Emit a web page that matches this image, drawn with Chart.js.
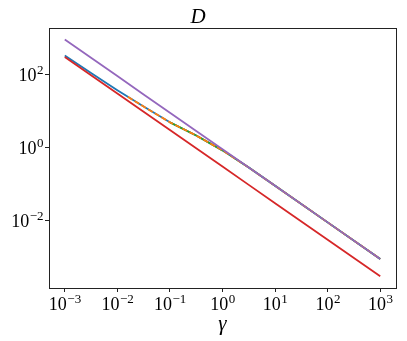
<!DOCTYPE html>
<html>
<head>
<meta charset="utf-8">
<script src="https://cdn.jsdelivr.net/npm/chart.js@4/dist/chart.umd.min.js"></script>
<style>
  html, body { margin: 0; padding: 0; background: #fff; }
  #chart { display: block; }
</style>
</head>
<body>
<canvas id="chart" width="407" height="341"></canvas>
<script>
// gamma grid (x values)
const gamma = [1e-3, 3.16e-3, 1e-2, 3.16e-2, 1e-1, 3.16e-1, 1, 3.16, 10, 100, 1000]

// D values
const blueD = [324, 107, 36.3, 12.9, 4.79, 2.09, 0.82, 0.278, 0.088, 0.0088, 0.00088]
const orangeGamma = [0.0158, 3.16e-2, 1e-1, 3.16e-1, 1, 3.16, 10, 100, 1000]
const orangeD = [24, 12.9, 4.79, 2.09, 0.82, 0.278, 0.088, 0.0088, 0.00088]
const greenGamma = [1e-1, 3.16e-1, 1, 3.16, 10, 100, 1000]
const greenD = [4.79, 2.09, 0.82, 0.278, 0.088, 0.0088, 0.00088]
const redD = [295, 93.3, 29.5, 9.33, 2.95, 0.933, 0.295, 0.0933, 0.0295, 0.00295, 0.000295]
const purpleD = [880, 278, 88, 27.8, 8.8, 2.78, 0.88, 0.278, 0.088, 0.0088, 0.00088]

const xTicks = [1e-3, 1e-2, 1e-1, 1, 10, 100, 1000]
const yTicks = [1e-2, 1, 100]

const serif = "'Liberation Serif', 'DejaVu Serif', serif"

function expOf(v) {
  return String(Math.round(Math.log10(v))).replace('-', '\u2212')
}

function pts(xs, ys) {
  return xs.map((x, i) => ({ x: x, y: ys[i] }))
}

// frame around the plot area + "10^n" tick labels with a real superscript
const framePlugin = {
  id: 'frame',
  afterDraw(chart) {
    const a = chart.chartArea
    const ctx = chart.ctx
    ctx.save()
    ctx.strokeStyle = '#222'
    ctx.lineWidth = 1
    ctx.strokeRect(Math.round(a.left) + 0.5, Math.round(a.top) + 0.5,
      Math.round(a.right - a.left), Math.round(a.bottom - a.top))

    ctx.fillStyle = '#000'
    ctx.textBaseline = 'alphabetic'
    ctx.textAlign = 'left'
    const big = '18px ' + serif
    const small = '13px ' + serif

    const xs = chart.scales.x
    xTicks.forEach(v => {
      const px = xs.getPixelForValue(v)
      const e = expOf(v)
      ctx.font = big
      const w1 = ctx.measureText('10').width
      ctx.font = small
      const w2 = ctx.measureText(e).width
      const x0 = px - (w1 + w2) / 2
      ctx.font = big
      ctx.fillText('10', x0, a.bottom + 22)
      ctx.font = small
      ctx.fillText(e, x0 + w1 + 0.5, a.bottom + 15)
    })

    const ys = chart.scales.y
    yTicks.forEach(v => {
      const py = ys.getPixelForValue(v)
      const e = expOf(v)
      ctx.font = big
      const w1 = ctx.measureText('10').width
      ctx.font = small
      const w2 = ctx.measureText(e).width
      const x0 = a.left - 6 - w1 - w2
      ctx.font = big
      ctx.fillText('10', x0, py + 7)
      ctx.font = small
      ctx.fillText(e, x0 + w1 + 0.5, py)
    })
    ctx.restore()
  }
}

function line(label, data, color, order, dash) {
  return {
    label: label,
    data: data,
    borderColor: color,
    backgroundColor: color,
    borderWidth: 1.8,
    borderDash: dash || [],
    pointRadius: 0,
    showLine: true,
    fill: false,
    order: order
  }
}

new Chart(document.getElementById('chart'), {
  type: 'scatter',
  data: {
    datasets: [
      line('blue', pts(gamma, blueD), '#1f77b4', 5),
      line('orange', pts(orangeGamma, orangeD), '#ff7f0e', 3, [5.5, 2.4]),
      line('green', pts(greenGamma, greenD), '#2ca02c', 4),
      line('red', pts(gamma, redD), '#d62728', 2),
      line('purple', pts(gamma, purpleD), '#9467bd', 1)
    ]
  },
  options: {
    responsive: false,
    animation: false,
    layout: { padding: { top: 0, right: 11, left: 0, bottom: 0 } },
    plugins: {
      legend: { display: false },
      tooltip: { enabled: false },
      title: {
        display: true,
        text: 'D',
        color: '#000',
        font: { family: serif, size: 21, style: 'italic', weight: 'normal', lineHeight: 1 },
        padding: { top: 6.5, bottom: 0.5 }
      }
    },
    scales: {
      x: {
        type: 'logarithmic',
        min: Math.pow(10, -3.3),
        max: Math.pow(10, 3.3),
        afterFit(scale) { scale.height = 53 },
        afterBuildTicks(scale) { scale.ticks = xTicks.map(v => ({ value: v, major: true })) },
        border: { display: false },
        grid: { drawOnChartArea: false, drawTicks: true, tickLength: 4, color: '#222' },
        ticks: { display: false },
        title: {
          display: true,
          text: '\u03B3',
          color: '#000',
          font: { family: serif, size: 21, style: 'italic', weight: 'normal', lineHeight: 1.2 },
          padding: { top: 0, bottom: 4 }
        }
      },
      y: {
        type: 'logarithmic',
        min: Math.pow(10, -3.85),
        max: Math.pow(10, 3.26),
        afterFit(scale) { scale.width = 49 },
        afterBuildTicks(scale) { scale.ticks = yTicks.map(v => ({ value: v, major: true })) },
        border: { display: false },
        grid: { drawOnChartArea: false, drawTicks: true, tickLength: 4, color: '#222' },
        ticks: { display: false }
      }
    }
  },
  plugins: [framePlugin]
})
</script>
</body>
</html>
